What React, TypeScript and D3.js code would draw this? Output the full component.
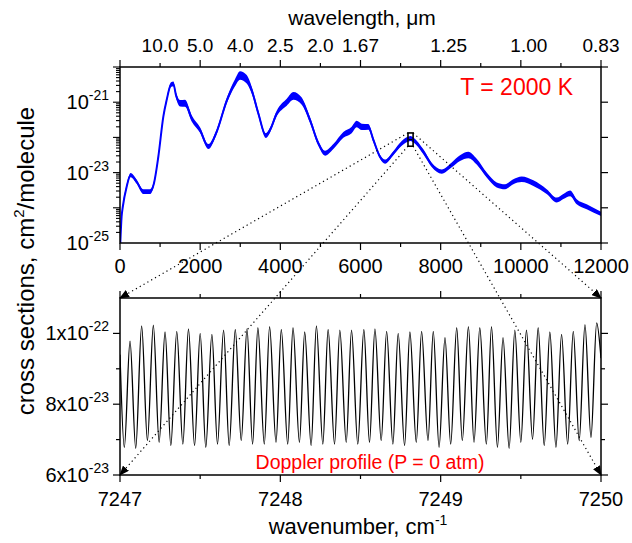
import React from "react";
import * as d3 from "d3";

// ---------- Data ----------
// Top panel: absorption cross sections at T = 2000 K (log10 of cm^2/molecule)
const nuTop = [0, 40, 70, 166, 266, 416, 582, 749, 848, 956, 1081, 1164, 1272, 1331, 1397, 1497, 1622, 1788, 1996, 2204, 2412, 2662, 2869, 2994, 3161, 3286, 3452, 3640, 3743, 3910, 4160, 4326, 4534, 4741, 4949, 5115, 5323, 5572, 5780, 5905, 6030, 6196, 6321, 6487, 6612, 6819, 7028, 7250, 7319, 7568, 7776, 8026, 8276, 8483, 8691, 8899, 9148, 9398, 9605, 9813, 10022, 10312, 10645, 10895, 11061, 11228, 11394, 11643, 12000];
const logSigmaTop = [-25.2, -24.25, -23.97, -23.4, -23.07, -23.26, -23.54, -23.54, -23.3, -22.55, -21.41, -20.94, -20.5, -20.48, -20.8, -21.03, -21.03, -21.46, -21.79, -22.26, -21.84, -20.96, -20.45, -20.24, -20.35, -20.66, -21.32, -21.95, -21.79, -21.32, -21.0, -20.82, -20.97, -21.51, -22.17, -22.45, -22.26, -21.93, -21.79, -21.62, -21.7, -21.7, -22.07, -22.55, -22.69, -22.45, -22.17, -22.03, -22.07, -22.41, -22.78, -22.97, -22.78, -22.59, -22.5, -22.69, -23.07, -23.35, -23.4, -23.26, -23.19, -23.3, -23.54, -23.78, -23.68, -23.59, -23.83, -23.97, -24.17];
// half-width of the noisy band (decades)
const spreadTop = [0.03, 0.04, 0.05, 0.06, 0.06, 0.06, 0.07, 0.07, 0.06, 0.05, 0.05, 0.06, 0.07, 0.07, 0.08, 0.09, 0.1, 0.09, 0.08, 0.07, 0.07, 0.08, 0.1, 0.12, 0.12, 0.1, 0.08, 0.07, 0.07, 0.08, 0.1, 0.11, 0.1, 0.08, 0.07, 0.07, 0.07, 0.08, 0.09, 0.09, 0.09, 0.08, 0.07, 0.06, 0.06, 0.06, 0.07, 0.07, 0.07, 0.07, 0.06, 0.06, 0.07, 0.08, 0.09, 0.08, 0.07, 0.07, 0.07, 0.07, 0.08, 0.08, 0.07, 0.07, 0.07, 0.08, 0.07, 0.07, 0.06];

// Bottom panel: Doppler profile, 7247-7250 cm^-1 (units of 1e-23 cm^2/molecule)
const nuDop = [7247.0, 7247.027, 7247.0625, 7247.098, 7247.135, 7247.171, 7247.208, 7247.244, 7247.281, 7247.317, 7247.354, 7247.392, 7247.427, 7247.465, 7247.5, 7247.535, 7247.573, 7247.608, 7247.646, 7247.681, 7247.719, 7247.756, 7247.792, 7247.827, 7247.86, 7247.9, 7247.933, 7247.973, 7248.006, 7248.046, 7248.079, 7248.119, 7248.152, 7248.192, 7248.225, 7248.265, 7248.298, 7248.338, 7248.371, 7248.411, 7248.444, 7248.483, 7248.521, 7248.556, 7248.59, 7248.629, 7248.663, 7248.702, 7248.735, 7248.775, 7248.808, 7248.848, 7248.881, 7248.921, 7248.954, 7248.99, 7249.027, 7249.0625, 7249.1, 7249.135, 7249.173, 7249.208, 7249.244, 7249.285, 7249.317, 7249.354, 7249.389, 7249.427, 7249.4625, 7249.5, 7249.535, 7249.573, 7249.608, 7249.646, 7249.681, 7249.719, 7249.754, 7249.792, 7249.827, 7249.864, 7249.9, 7249.9375, 7249.973, 7250.0];
const sigmaDop = [9.4, 6.78, 9.78, 6.75, 10.21, 6.97, 10.23, 6.92, 10.04, 6.83, 10.06, 6.87, 10.13, 6.83, 10.0, 6.78, 9.97, 6.87, 10.09, 6.83, 10.11, 6.97, 10.13, 6.87, 10.16, 6.87, 10.19, 6.92, 10.11, 6.87, 10.16, 6.92, 10.04, 6.83, 10.21, 6.87, 10.11, 6.87, 10.09, 6.92, 10.09, 6.87, 10.11, 6.92, 10.13, 6.97, 10.06, 6.87, 10.0, 6.83, 10.04, 6.92, 10.06, 6.97, 10.06, 6.78, 9.88, 6.87, 10.16, 6.97, 10.19, 6.92, 10.16, 6.87, 10.19, 6.78, 9.88, 6.75, 10.09, 6.92, 10.09, 7.01, 10.16, 6.83, 10.04, 6.78, 9.97, 6.87, 10.06, 6.97, 10.25, 7.06, 10.3, 9.3];

// Axis ticks / labels
const topMainTicks = [0, 1000, 2000, 3000, 4000, 5000, 6000, 7000, 8000, 9000, 10000, 11000, 12000];
const topMainLabels = [0, 2000, 4000, 6000, 8000, 10000, 12000];
const wlTickPos = [1000, 2000, 3000, 4000, 5000, 6000, 8200, 10200, 12000];
const wlTickText = ["10.0", "5.0", "4.0", "2.5", "2.0", "1.67", "1.25", "1.00", "0.83"];
const topYLabelExp = [-21, -23, -25];
const dopXTicks = [7247, 7247.5, 7248, 7248.5, 7249, 7249.5, 7250];
const dopXLabels = [7247, 7248, 7249, 7250];
const dopYTicks = [6, 7, 8, 9, 10];
const dopYLabels = [
  { v: 10, mant: "1", exp: "-22" },
  { v: 8, mant: "8", exp: "-23" },
  { v: 6, mant: "6", exp: "-23" },
];

const FONT = "'Liberation Sans', Arial, Helvetica, sans-serif";

export default function App() {
  const W = 632, H = 543;
  const P1 = { l: 120, r: 601, t: 67, b: 243 };
  const P2 = { l: 120, r: 601, t: 298, b: 475 };

  const xT = d3.scaleLinear().domain([0, 12000]).range([P1.l, P1.r]);
  const yT = d3.scaleLog().domain([1e-25, 1e-20]).range([P1.b, P1.t]);
  const xB = d3.scaleLinear().domain([7247, 7250]).range([P2.l, P2.r]);
  const yB = d3.scaleLinear().domain([6, 11]).range([P2.b, P2.t]);

  const topData = nuTop.map((n, i) => ({ n, c: logSigmaTop[i], s: spreadTop[i] }));
  const area = d3
    .area<any>()
    .x((d) => xT(d.n))
    .y0((d) => yT(Math.pow(10, d.c - d.s)))
    .y1((d) => yT(Math.pow(10, d.c + d.s)))
    .curve(d3.curveMonotoneX);
  const topLine = d3
    .line<any>()
    .x((d) => xT(d.n))
    .y((d) => yT(Math.pow(10, d.c)))
    .curve(d3.curveMonotoneX);

  const dopData = nuDop.map((n, i) => ({ n, v: sigmaDop[i] }));
  const dopLine = d3
    .line<any>()
    .x((d) => xB(d.n))
    .y((d) => yB(d.v))
    .curve(d3.curveMonotoneX);

  const yTicksAll = yT.ticks();
  const majorDec = d3.range(-25, -19).map((e) => Math.pow(10, e));

  // zoom rectangle in top panel
  const rx0 = xT(7247) - 2.5;
  const rx1 = xT(7250) + 2.5;
  const ry0 = yT(1.1e-22) - 3;
  const ry1 = yT(6e-23) + 1;

  const axisW = 1.5;
  const maj = 7, mn = 4;
  const tickFs = 20;

  return (
    <svg width={W} height={H} style={{ position: "absolute", left: 0, top: 0, background: "#fff" }} fontFamily={FONT}>
      <defs>
        <clipPath id="clipTop">
          <rect x={P1.l} y={P1.t} width={P1.r - P1.l} height={P1.b - P1.t} />
        </clipPath>
        <clipPath id="clipBot">
          <rect x={P2.l} y={P2.t} width={P2.r - P2.l} height={P2.b - P2.t} />
        </clipPath>
        <marker id="arr" markerWidth={10} markerHeight={8} refX={9} refY={4} orient="auto" markerUnits="userSpaceOnUse">
          <path d="M0,0 L10,4 L0,8 Z" fill="#000" />
        </marker>
      </defs>

      {/* ---------- Top panel ---------- */}
      <g clipPath="url(#clipTop)">
        <path d={area(topData) || ""} fill="#0000ff" />
        <path d={topLine(topData) || ""} fill="none" stroke="#0000ff" strokeWidth={2} />
      </g>
      <rect x={P1.l} y={P1.t} width={P1.r - P1.l} height={P1.b - P1.t} fill="none" stroke="#000" strokeWidth={axisW} />

      {/* top axis (wavelength) ticks */}
      {topMainTicks.map((t) => (
        <line key={"tt" + t} x1={xT(t)} x2={xT(t)} y1={P1.t} y2={P1.t - (t % 2000 === 0 ? maj : mn)} stroke="#000" strokeWidth={1.2} />
      ))}
      {wlTickPos.map((t, i) => (
        <text key={"wl" + i} x={xT(t)} y={52} fontSize={19} textAnchor="middle">
          {wlTickText[i]}
        </text>
      ))}
      <text x={362} y={25} fontSize={21} textAnchor="middle">
        wavelength, μm
      </text>

      {/* bottom axis of top panel */}
      {topMainTicks.map((t) => (
        <line key={"tb" + t} x1={xT(t)} x2={xT(t)} y1={P1.b} y2={P1.b + (t % 2000 === 0 ? maj : mn)} stroke="#000" strokeWidth={1.2} />
      ))}
      {topMainLabels.map((t) => (
        <text key={"tl" + t} x={xT(t)} y={P1.b + 30} fontSize={tickFs} textAnchor="middle">
          {t}
        </text>
      ))}

      {/* left axis of top panel */}
      {yTicksAll.map((t, i) => {
        const isMaj = majorDec.some((m) => Math.abs(Math.log10(t) - Math.log10(m)) < 1e-6);
        return (
          <line key={"yl" + i} x1={P1.l} x2={P1.l - (isMaj ? maj : mn)} y1={yT(t)} y2={yT(t)} stroke="#000" strokeWidth={1.1} />
        );
      })}
      {majorDec.map((t, i) => (
        <line key={"yr" + i} x1={P1.r} x2={P1.r + maj} y1={yT(t)} y2={yT(t)} stroke="#000" strokeWidth={1.2} />
      ))}
      {topYLabelExp.map((e) => (
        <text key={"ye" + e} x={109} y={yT(Math.pow(10, e)) + 7} fontSize={tickFs} textAnchor="end">
          10<tspan dy={-9} fontSize={14}>{e}</tspan>
        </text>
      ))}
      <text x={573} y={95} fontSize={23} fill="#ff0000" textAnchor="end">
        T = 2000 K
      </text>

      {/* ---------- Bottom panel ---------- */}
      <g clipPath="url(#clipBot)">
        <path d={dopLine(dopData) || ""} fill="none" stroke="#000" strokeWidth={1.3} />
      </g>
      <rect x={P2.l} y={P2.t} width={P2.r - P2.l} height={P2.b - P2.t} fill="none" stroke="#000" strokeWidth={axisW} />
      {dopXTicks.map((t) => {
        const isMaj = Math.abs(t - Math.round(t)) < 1e-6;
        return (
          <g key={"dx" + t}>
            <line x1={xB(t)} x2={xB(t)} y1={P2.b} y2={P2.b + (isMaj ? maj : mn)} stroke="#000" strokeWidth={1.2} />
            <line x1={xB(t)} x2={xB(t)} y1={P2.t} y2={P2.t - (isMaj ? maj : mn)} stroke="#000" strokeWidth={1.2} />
          </g>
        );
      })}
      {dopXLabels.map((t) => (
        <text key={"dxl" + t} x={xB(t)} y={P2.b + 31} fontSize={tickFs} textAnchor="middle">
          {t}
        </text>
      ))}
      {dopYTicks.map((t) => {
        const isMaj = t % 2 === 0;
        return (
          <g key={"dy" + t}>
            <line x1={P2.l} x2={P2.l - (isMaj ? maj : mn)} y1={yB(t)} y2={yB(t)} stroke="#000" strokeWidth={1.2} />
            <line x1={P2.r} x2={P2.r + (isMaj ? maj : mn)} y1={yB(t)} y2={yB(t)} stroke="#000" strokeWidth={1.2} />
          </g>
        );
      })}
      {dopYLabels.map((d) => (
        <text key={"dyl" + d.v} x={109} y={yB(d.v) + 7} fontSize={tickFs} textAnchor="end">
          {d.mant}x10<tspan dy={-9} fontSize={14}>{d.exp}</tspan>
        </text>
      ))}
      <text x={370} y={469} fontSize={19.5} fill="#ff0000" textAnchor="middle">
        Doppler profile (P = 0 atm)
      </text>

      {/* zoom box and connecting dotted lines */}
      <rect x={rx0} y={ry0} width={rx1 - rx0} height={ry1 - ry0} fill="none" stroke="#000" strokeWidth={1.6} />
      <line x1={rx0 + 1} y1={(ry0 + ry1) / 2} x2={rx1 - 1} y2={(ry0 + ry1) / 2} stroke="#000" strokeWidth={1} />
      {[
        [rx0, ry0, P2.l, P2.t],
        [rx1, ry0, P2.r, P2.t],
        [rx0, ry1, P2.l, P2.b],
        [rx1, ry1, P2.r, P2.b],
      ].map((c, i) => (
        <line key={"dl" + i} x1={c[0]} y1={c[1]} x2={c[2]} y2={c[3]} stroke="#000" strokeWidth={1.2} strokeDasharray="1.2 3.2" markerEnd="url(#arr)" />
      ))}

      {/* axis titles */}
      <text transform={`translate(34,261) rotate(-90)`} fontSize={24} textAnchor="middle">
        cross sections, cm<tspan dy={-10} fontSize={15}>2</tspan>
        <tspan dy={10}>/molecule</tspan>
      </text>
      <text x={358} y={534} fontSize={22} textAnchor="middle">
        wavenumber, cm<tspan dy={-9} fontSize={14}>-1</tspan>
      </text>
    </svg>
  );
}
